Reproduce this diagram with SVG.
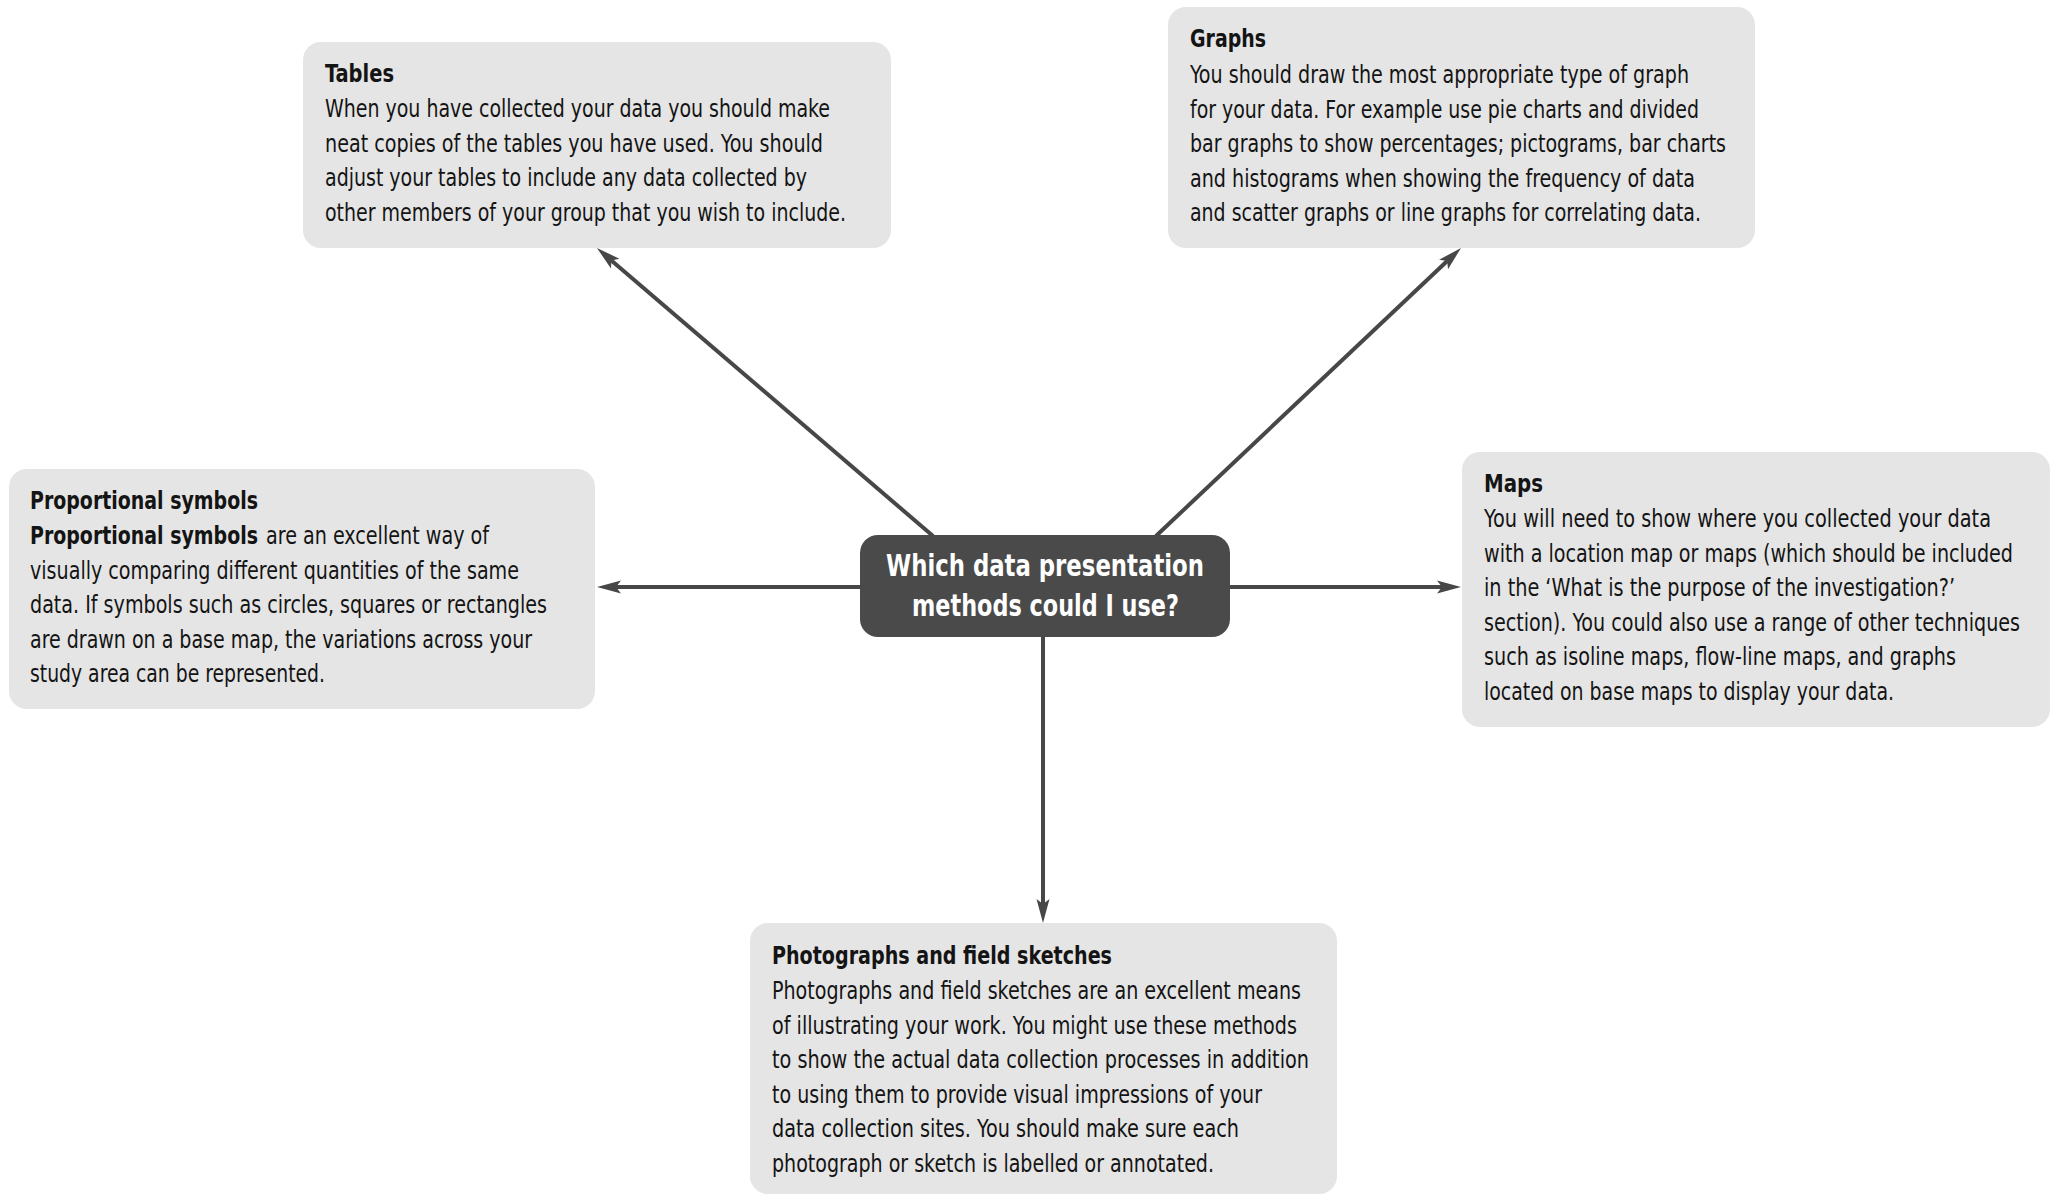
<svg xmlns="http://www.w3.org/2000/svg" width="2060" height="1195" viewBox="0 0 2060 1195">
<defs>
<style>
.box{fill:#e5e5e5}
.hub{fill:#4a4a4a}
.t{font-family:"Liberation Sans Narrow","DejaVu Sans Condensed","Liberation Sans",Arial,sans-serif;font-size:24px;fill:#141414}
.b{font-weight:bold}
.ht{font-family:"Liberation Sans Narrow","DejaVu Sans Condensed","Liberation Sans",Arial,sans-serif;font-size:30px;font-weight:bold;fill:#ffffff}
.c{stroke:#474747;stroke-width:4;fill:none}
</style>
<marker id="ah" markerUnits="userSpaceOnUse" viewBox="0 -7 24 14" markerWidth="24" markerHeight="14" refX="5" refY="0" orient="auto">
<path d="M0,-6.5 L24,0 L0,6.5 L5,0 Z" fill="#474747"/>
</marker>
</defs>
<rect width="2060" height="1195" fill="#ffffff"/>

<g id="connectors">
<line class="c" x1="933" y1="536" x2="611.4" y2="260.4" marker-end="url(#ah)"/>
<line class="c" x1="1156" y1="536" x2="1447.2" y2="261" marker-end="url(#ah)"/>
<line class="c" x1="861" y1="587" x2="616" y2="587" marker-end="url(#ah)"/>
<line class="c" x1="1229" y1="587" x2="1442" y2="587" marker-end="url(#ah)"/>
<line class="c" x1="1043" y1="636" x2="1043" y2="904" marker-end="url(#ah)"/>
</g>

<g id="tables">
<rect class="box" x="303" y="42" width="588" height="206" rx="18"/>
<text class="t b" x="325" y="82" textLength="69" lengthAdjust="spacingAndGlyphs">Tables</text>
<text class="t" x="325" y="117" textLength="505" lengthAdjust="spacingAndGlyphs">When you have collected your data you should make</text>
<text class="t" x="325" y="151.5" textLength="498" lengthAdjust="spacingAndGlyphs">neat copies of the tables you have used. You should</text>
<text class="t" x="325" y="186" textLength="482" lengthAdjust="spacingAndGlyphs">adjust your tables to include any data collected by</text>
<text class="t" x="325" y="220.5" textLength="521" lengthAdjust="spacingAndGlyphs">other members of your group that you wish to include.</text>
</g>

<g id="graphs">
<rect class="box" x="1168" y="7" width="587" height="241" rx="18"/>
<text class="t b" x="1190" y="47" textLength="76" lengthAdjust="spacingAndGlyphs">Graphs</text>
<text class="t" x="1190" y="83" textLength="499" lengthAdjust="spacingAndGlyphs">You should draw the most appropriate type of graph</text>
<text class="t" x="1190" y="117.5" textLength="509" lengthAdjust="spacingAndGlyphs">for your data. For example use pie charts and divided</text>
<text class="t" x="1190" y="152" textLength="536" lengthAdjust="spacingAndGlyphs">bar graphs to show percentages; pictograms, bar charts</text>
<text class="t" x="1190" y="186.5" textLength="505" lengthAdjust="spacingAndGlyphs">and histograms when showing the frequency of data</text>
<text class="t" x="1190" y="221" textLength="511" lengthAdjust="spacingAndGlyphs">and scatter graphs or line graphs for correlating data.</text>
</g>

<g id="proportional-symbols">
<rect class="box" x="9" y="469" width="586" height="240" rx="18"/>
<text class="t b" x="30" y="509" textLength="228" lengthAdjust="spacingAndGlyphs">Proportional symbols</text>
<text class="t b" x="30" y="544" textLength="228" lengthAdjust="spacingAndGlyphs">Proportional symbols</text>
<text class="t" x="266" y="544" textLength="223" lengthAdjust="spacingAndGlyphs">are an excellent way of</text>
<text class="t" x="30" y="578.5" textLength="489" lengthAdjust="spacingAndGlyphs">visually comparing different quantities of the same</text>
<text class="t" x="30" y="613" textLength="517" lengthAdjust="spacingAndGlyphs">data. If symbols such as circles, squares or rectangles</text>
<text class="t" x="30" y="647.5" textLength="502" lengthAdjust="spacingAndGlyphs">are drawn on a base map, the variations across your</text>
<text class="t" x="30" y="682" textLength="295" lengthAdjust="spacingAndGlyphs">study area can be represented.</text>
</g>

<g id="maps">
<rect class="box" x="1462" y="452" width="588" height="275" rx="18"/>
<text class="t b" x="1484" y="492" textLength="59" lengthAdjust="spacingAndGlyphs">Maps</text>
<text class="t" x="1484" y="527" textLength="507" lengthAdjust="spacingAndGlyphs">You will need to show where you collected your data</text>
<text class="t" x="1484" y="561.5" textLength="529" lengthAdjust="spacingAndGlyphs">with a location map or maps (which should be included</text>
<text class="t" x="1484" y="596" textLength="471" lengthAdjust="spacingAndGlyphs">in the ‘What is the purpose of the investigation?’</text>
<text class="t" x="1484" y="630.5" textLength="536" lengthAdjust="spacingAndGlyphs">section). You could also use a range of other techniques</text>
<text class="t" x="1484" y="665" textLength="472" lengthAdjust="spacingAndGlyphs">such as isoline maps, flow-line maps, and graphs</text>
<text class="t" x="1484" y="699.5" textLength="410" lengthAdjust="spacingAndGlyphs">located on base maps to display your data.</text>
</g>

<g id="photographs">
<rect class="box" x="750" y="923" width="587" height="271" rx="18"/>
<text class="t b" x="772" y="964" textLength="340" lengthAdjust="spacingAndGlyphs">Photographs and field sketches</text>
<text class="t" x="772" y="999" textLength="529" lengthAdjust="spacingAndGlyphs">Photographs and field sketches are an excellent means</text>
<text class="t" x="772" y="1033.5" textLength="525" lengthAdjust="spacingAndGlyphs">of illustrating your work. You might use these methods</text>
<text class="t" x="772" y="1068" textLength="537" lengthAdjust="spacingAndGlyphs">to show the actual data collection processes in addition</text>
<text class="t" x="772" y="1102.5" textLength="490" lengthAdjust="spacingAndGlyphs">to using them to provide visual impressions of your</text>
<text class="t" x="772" y="1137" textLength="467" lengthAdjust="spacingAndGlyphs">data collection sites. You should make sure each</text>
<text class="t" x="772" y="1171.5" textLength="442" lengthAdjust="spacingAndGlyphs">photograph or sketch is labelled or annotated.</text>
</g>

<g id="hub">
<rect class="hub" x="860" y="535" width="370" height="102" rx="18"/>
<text class="ht" x="886" y="576" textLength="318" lengthAdjust="spacingAndGlyphs">Which data presentation</text>
<text class="ht" x="912" y="616" textLength="267" lengthAdjust="spacingAndGlyphs">methods could I use?</text>
</g>
</svg>
